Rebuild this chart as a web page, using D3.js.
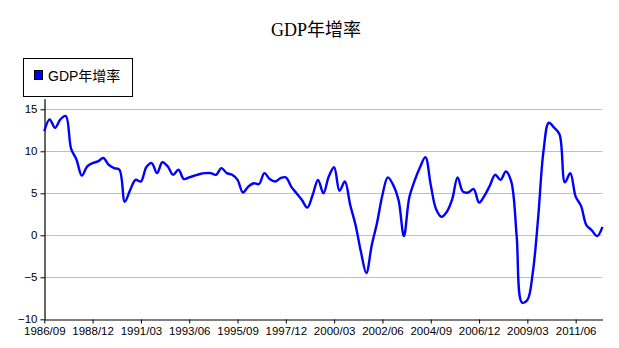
<!DOCTYPE html>
<html>
<head>
<meta charset="utf-8">
<script src="https://cdn.jsdelivr.net/npm/d3@7/dist/d3.min.js"></script>
<style>
  html, body { margin: 0; padding: 0; background: #fff; }
  svg { display: block; }
</style>
</head>
<body>
<svg id="chart" width="619" height="348"></svg>
<script>
// Quarterly year-on-year GDP growth (%), 1986Q3 – 2012Q3
const startYear = 1986;
const startMonth = 9;
const growth = [
  12.4, 13.8, 12.8, 13.8, 14.2, 10.3, 9.0, 7.1, 8.2, 8.6,
  8.8, 9.2, 8.4, 8.0, 7.8, 4.0, 5.4, 6.6, 6.4, 8.1,
  8.6, 7.4, 8.7, 8.2, 7.2, 7.8, 6.7, 6.9, 7.1, 7.3,
  7.4, 7.4, 7.2, 8.0, 7.4, 7.2, 6.6, 5.1, 5.8, 6.2,
  6.1, 7.4, 6.7, 6.4, 6.8, 6.9, 5.8, 5.0, 4.2, 3.3,
  4.8, 6.6, 5.0, 7.0, 8.1, 5.3, 6.4, 3.6, 1.2, -2.0,
  -4.5, -1.2, 1.5, 4.8, 6.9, 6.0, 4.2, -0.1, 4.5, 6.5,
  8.1, 9.3, 6.0, 3.1, 2.2, 2.8, 4.3, 6.9, 5.2, 5.1,
  5.5, 3.9, 4.7, 5.9, 7.2, 6.6, 7.6, 6.4, 0.0, -8.0,
  -7.7, -4.5, 2.0, 10.0, 13.4, 12.8, 12.0, 6.3, 7.4, 4.6,
  3.5, 1.2, 0.6, -0.1, 1.0
];

// Period labels "YYYY/MM" for each quarter
const periods = growth.map((_, i) => {
  const m = startMonth + 3 * i;
  const y = startYear + Math.floor((m - 1) / 12);
  const mm = ((m - 1) % 12) + 1;
  return `${y}/${String(mm).padStart(2, "0")}`;
});

const xTickLabels = [
  "1986/09", "1988/12", "1991/03", "1993/06", "1995/09", "1997/12",
  "2000/03", "2002/06", "2004/09", "2006/12", "2009/03", "2011/06"
];
const yTicks = [-10, -5, 0, 5, 10, 15];

const seriesName = "GDP年增率";
const titleText = "GDP年增率";

const svg = d3.select("#chart");

const plot = { left: 44.3, right: 602.5, top: 98.8, bottom: 319.3 };

const x = d3.scalePoint()
  .domain(periods)
  .range([plot.left, plot.right]);

const y = d3.scaleLinear()
  .domain([-10, 16.25])
  .range([plot.bottom, plot.top]);

// Title
svg.append("text")
  .attr("x", 316)
  .attr("y", 36)
  .attr("text-anchor", "middle")
  .attr("font-family", "'Liberation Serif', 'Times New Roman', 'Noto Sans CJK TC', serif")
  .attr("font-size", 18)
  .attr("fill", "#000")
  .text(titleText);

// Horizontal grid lines
svg.append("g")
  .selectAll("line")
  .data(yTicks.filter(d => d !== -10))
  .join("line")
  .attr("x1", plot.left)
  .attr("x2", plot.right)
  .attr("y1", d => Math.round(y(d)) + 0.5)
  .attr("y2", d => Math.round(y(d)) + 0.5)
  .attr("stroke", "#c0c0c0")
  .attr("stroke-width", 1);

// Y axis
const yAxis = svg.append("g")
  .attr("transform", `translate(${Math.round(plot.left) + 0.5},0)`)
  .call(d3.axisLeft(y).tickValues(yTicks).tickSize(4).tickSizeOuter(0).tickPadding(3));

// X axis
const xAxis = svg.append("g")
  .attr("transform", `translate(0,${Math.round(plot.bottom) + 0.5})`)
  .call(d3.axisBottom(x).tickValues(xTickLabels).tickSize(4).tickSizeOuter(0).tickPadding(3));

[yAxis, xAxis].forEach(g => {
  g.select(".domain").attr("stroke", "#000").attr("stroke-width", 1.2);
  g.selectAll(".tick line").attr("stroke", "#000");
  g.selectAll(".tick text")
    .attr("fill", "#000")
    .attr("font-family", "'Liberation Sans', Arial, sans-serif")
    .attr("font-size", 11.5);
});

// Series line
const line = d3.line()
  .x((d, i) => x(periods[i]))
  .y(d => y(d))
  .curve(d3.curveCatmullRom.alpha(0.5));

svg.append("path")
  .datum(growth)
  .attr("fill", "none")
  .attr("stroke", "#0000ff")
  .attr("stroke-width", 2.4)
  .attr("stroke-linejoin", "round")
  .attr("d", line);

// Legend
const legend = svg.append("g");
legend.append("rect")
  .attr("x", 23.5).attr("y", 58.5)
  .attr("width", 109).attr("height", 38)
  .attr("fill", "#fff")
  .attr("stroke", "#000")
  .attr("stroke-width", 1);
legend.append("rect")
  .attr("x", 34.5).attr("y", 70.5)
  .attr("width", 8).attr("height", 9)
  .attr("fill", "#0000ff")
  .attr("stroke", "#000")
  .attr("stroke-width", 1);
legend.append("text")
  .attr("x", 48)
  .attr("y", 81)
  .attr("font-family", "'Liberation Sans', Arial, 'Noto Sans CJK TC', sans-serif")
  .attr("font-size", 14)
  .attr("fill", "#000")
  .text(seriesName);
</script>
</body>
</html>
